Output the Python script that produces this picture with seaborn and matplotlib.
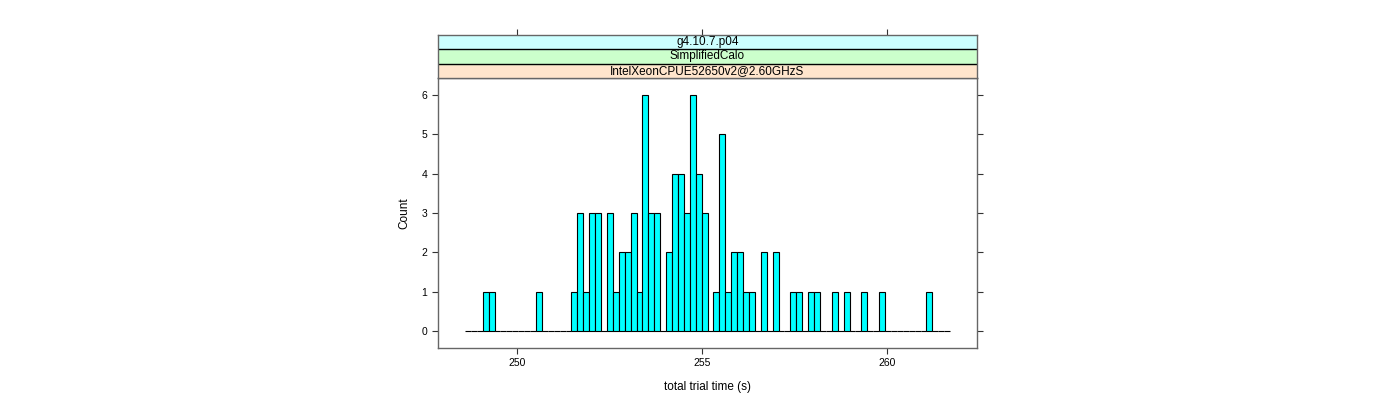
import numpy as np
import pandas as pd
import matplotlib
matplotlib.use("Agg")
import matplotlib.pyplot as plt
import seaborn as sns

# ---- data ----
trial_times = [249.15, 249.31, 250.58, 251.54, 251.70, 251.86, 252.02, 252.18,
               252.50, 252.66, 252.82, 252.98, 253.14, 253.30, 253.46, 253.62,
               253.78, 254.10, 254.26, 254.42, 254.58, 254.74, 254.90, 255.06,
               255.38, 255.54, 255.70, 255.86, 256.02, 256.18, 256.34, 256.66,
               256.98, 257.46, 257.62, 257.94, 258.10, 258.58, 258.90, 259.38,
               259.86, 261.14]
counts = [1, 1, 1, 1, 3, 1, 3, 3,
          3, 1, 2, 2, 3, 1, 6, 3,
          3, 2, 4, 4, 3, 6, 4, 3,
          1, 5, 1, 2, 2, 1, 1, 2,
          2, 1, 1, 1, 1, 1, 1, 1,
          1, 1]
bin_start = 248.586
bin_width = 0.1599
n_bins = 82
x_ticks = [250, 255, 260]
y_ticks = [0, 1, 2, 3, 4, 5, 6]
strip_labels = ["IntelXeonCPUE52650v2@2.60GHzS", "SimplifiedCalo", "g4.10.7.p04"]
strip_colors = ["#FFE5CC", "#CCFFCC", "#CCFFFF"]

sns.set_theme(style="white")
plt.rcParams['font.family'] = ['Liberation Sans', 'DejaVu Sans']
plt.rcParams['text.color'] = 'black'
plt.rcParams['axes.labelcolor'] = 'black'
plt.rcParams['xtick.color'] = 'black'
plt.rcParams['ytick.color'] = 'black'

fig = plt.figure(figsize=(14, 4), dpi=100)
W, H = 1400, 400
L, R, T, B = 437.7, 977.3, 78, 347.7
ax = fig.add_axes([L / W, 1 - B / H, (R - L) / W, (B - T) / H])

df = pd.DataFrame({"time": trial_times, "count": counts})
edges = [float(e) for e in bin_start + bin_width * np.arange(n_bins + 1)]
sns.histplot(data=df, x="time", weights="count", bins=edges, ax=ax,
             color="#00FFFF", edgecolor="black", linewidth=0.8, alpha=1.0)

ax.set_xlim(247.849, 262.432)
ax.set_ylim(-0.416, 6.424)
ax.set_xticks(x_ticks)
ax.set_yticks(y_ticks)
ax.tick_params(axis='both', direction='out', length=4.5, width=0.8,
               color='#333333', labelcolor='black', labelsize=7.5, pad=3)
ax.tick_params(axis='y', right=True, left=True, labelright=False)
ax.tick_params(axis='x', bottom=True, top=False)
ax.set_xlabel("total trial time (s)", fontsize=8.5, labelpad=9, color='black')
ax.set_ylabel("Count", fontsize=8.5, labelpad=8, color='black')
for s in ax.spines.values():
    s.set_color('#666666')
    s.set_linewidth(1.0)
    s.set_visible(True)
ax.grid(False)

# strips
ST = 35
sax = fig.add_axes([L / W, 1 - T / H, (R - L) / W, (T - ST) / H])
sax.set_xlim(ax.get_xlim())
sax.set_ylim(0, 3)
for i, (lab, col) in enumerate(zip(strip_labels, strip_colors)):
    sax.axhspan(i, i + 1, color=col, zorder=0)
    if i > 0:
        sax.axhline(i, color='black', linewidth=1.0)
    sax.text(0.5, (i + 0.5) / 3, lab, transform=sax.transAxes,
             ha='center', va='center', fontsize=8.5, color='black')
sax.set_xticks(x_ticks)
sax.set_yticks([])
sax.tick_params(axis='x', top=True, bottom=False, labeltop=False,
                labelbottom=False, direction='out', length=4.5, width=0.8,
                color='#333333')
for s in sax.spines.values():
    s.set_color('#666666')
    s.set_linewidth(1.0)
    s.set_visible(True)

fig.savefig("out.png", dpi=100)
